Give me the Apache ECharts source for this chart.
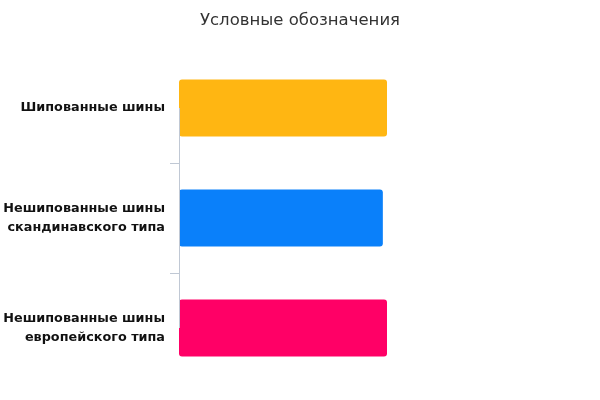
<!DOCTYPE html>
<html><head><meta charset="utf-8">
<script src="https://cdn.jsdelivr.net/npm/echarts@6/dist/echarts.min.js"></script>
<style>html,body{margin:0;padding:0;background:#fff}#c{width:600px;height:400px}</style>
</head><body><div id="c"></div>
<script>
const titleText = 'Условные обозначения';
const categories = ['Шипованные шины', 'Нешипованные шины\nскандинавского типа', 'Нешипованные шины\nевропейского типа'];
const values = [100, 98, 100];
const colors = ['#FFB612', '#0A80FA', '#FF0066'];
const tickSlots = ['', '', '', ''];

const chart = echarts.init(document.getElementById('c'));
chart.setOption({
  animation: false,
  title: {
    text: titleText, left: 'center', top: 7,
    textStyle: { fontFamily: 'DejaVu Sans', fontSize: 16.5, fontWeight: 'normal', color: '#333' }
  },
  grid: { left: 179, right: 213, top: 53, bottom: 17, outerBoundsMode: 'none', containLabel: false },
  xAxis: {
    type: 'value', min: 0, max: 100, show: false
  },
  yAxis: [{
    type: 'category', data: categories, inverse: true,
    axisLine: { show: false },
    axisTick: { show: false },
    axisLabel: {
      margin: 14, align: 'right', lineHeight: 19,
      fontFamily: 'DejaVu Sans', fontSize: 12.8, fontWeight: 'bold', color: '#111'
    }
  }, {
    type: 'category', data: tickSlots, inverse: true, boundaryGap: false,
    position: 'left', offset: 0,
    axisLine: { show: false },
    axisLabel: { show: false },
    axisTick: {
      show: true, length: 9,
      interval: function (index) { return index === 1 || index === 2; },
      lineStyle: { color: '#c0c8d4' }
    },
    splitLine: { show: false }
  }],
  series: [{
    type: 'bar',
    yAxisIndex: 0,
    z: 3,
    barWidth: '52%',
    data: values.map((v, i) => ({ value: v, itemStyle: { color: colors[i], borderRadius: 3 } })),
    label: { show: false }
  }, {
    type: 'line',
    yAxisIndex: 0,
    z: 1,
    silent: true,
    data: [],
    markLine: {
      silent: true, symbol: 'none', label: { show: false },
      lineStyle: { color: '#c0c8d4', type: 'solid', width: 1 },
      data: [[{ coord: [0, categories[0]] }, { coord: [0, categories[1]] }], [{ coord: [0, categories[1]] }, { coord: [0, categories[2]] }]]
    }
  }]
});
</script></body></html>
